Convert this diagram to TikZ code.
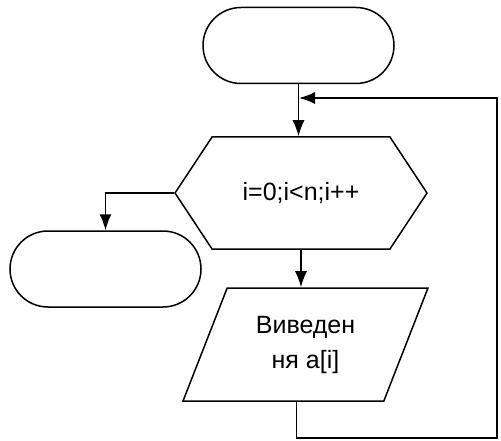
\documentclass[tikz,border=0pt]{standalone}
\usepackage{fontspec}
\setmainfont{Liberation Sans}
\usetikzlibrary{shapes.misc,shapes.symbols,shapes.geometric,arrows.meta}

\tikzset{
  blockline/.style={line width=1.5pt},
  terminal/.style={blockline, draw, rounded rectangle, minimum width=191pt, minimum height=76pt, inner sep=0pt},
  loopbox/.style={blockline, draw, signal, signal to=west and east, signal pointer angle=113, minimum width=252pt, minimum height=112pt, inner sep=0pt},
  iobox/.style={blockline, draw, trapezium, trapezium left angle=64, trapezium right angle=116, trapezium stretches=true, minimum width=245pt, minimum height=113pt, inner sep=0pt, align=center},
  flow/.style={blockline, -{Latex[length=16pt,width=12pt]}}
}

\begin{document}
\begin{tikzpicture}[x=1pt,y=-1pt, font=\fontsize{25}{35}\selectfont]
	\useasboundingbox (0,0) rectangle (501,441);
	% blocks
	\node[terminal] (start) at (298.5,45.5) {};
	\node[loopbox] (cycle) at (301,193) {i=0;i<n;i++};
	\node[terminal] (stop) at (105.5,269) {};
	\node[iobox] (out) at (305.5,344.5) {Виведен\\ня a[i]};
	\coordinate (back) at (497,438);
	\coordinate (join) at (299,98);
	
	% links
	\draw[flow] (start.south) -- (start.south |- cycle.north);
	\draw[flow] (cycle.west) -| (stop.north);
	\draw[flow] (cycle.south) -- (cycle.south |- out.north);
	\draw[flow] ([xshift=-9pt]out.south) |- (back) |- (join);
\end{tikzpicture}
\end{document}
